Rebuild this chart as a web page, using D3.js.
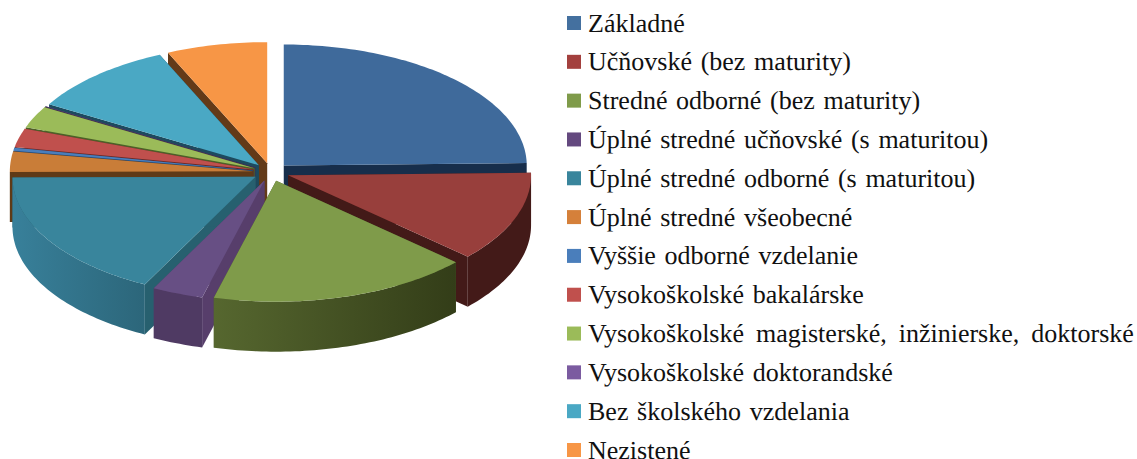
<!DOCTYPE html>
<html>

<head>
  <meta charset="utf-8">
  <title>Vzdelanie</title>
  <style>
    body {
      margin: 0;
      background: #fff;
    }

    svg {
      display: block;
    }

    .legend text {
      font-family: "Liberation Serif", serif;
      font-size: 26px;
      word-spacing: 2.2px;
      fill: #111;
      text-rendering: geometricPrecision;
    }

    /* the long row is stretched wider in the original */
    .legend g.long text {
      word-spacing: 5.5px;
    }
  </style>
</head>

<body>
  <svg width="1137" height="459"></svg>

  <script src="https://d3js.org/d3.v7.min.js"></script>
  <script>
    var categories = [
      'Základné',
      'Učňovské (bez maturity)',
      'Stredné odborné (bez maturity)',
      'Úplné stredné učňovské (s maturitou)',
      'Úplné stredné odborné (s maturitou)',
      'Úplné stredné všeobecné',
      'Vyššie odborné vzdelanie',
      'Vysokoškolské bakalárske',
      'Vysokoškolské magisterské, inžinierske, doktorské',
      'Vysokoškolské doktorandské',
      'Bez školského vzdelania',
      'Nezistené'
    ];
    var shares = [24.7, 12.1, 17.4, 3.4, 17.4, 2.7, 0.4, 2.5, 2.9, 0.03, 9.9, 6.7];

    // palettes, same order as categories
    var topColors = ['#3f6a9b', '#983f3c', '#7f9b4a', '#674f84', '#39859c', '#c97d38',
      '#4a7ebb', '#c0504d', '#9bbb59', '#6a4f8a', '#4aa8c4', '#f79646'];
    var swatchColors = ['#44709f', '#a3403e', '#7f9b4a', '#64497f', '#39859c', '#d5803a',
      '#4a7ebb', '#c0504d', '#9bbb59', '#7b5ba0', '#4aa8c4', '#f79646'];
    var sideColors = ['#172e4b', '#431a18', '#4a5a2a', '#573e6b', '#27606f', '#5f3a17',
      '#254a75', '#6b2a28', '#4d6028', '#3f2f55', '#1d4a5e', '#633a18'];
    // outer wall gradient, left and right end
    var wallLeft = ['#172e4b', '#431a18', '#56672f', '#4f3a63', '#38809a', '#5f3a17',
      '#254a75', '#6b2a28', '#4d6028', '#3f2f55', '#1d4a5e', '#633a18'];
    var wallRight = ['#172e4b', '#431a18', '#333d18', '#4f3a63', '#2c667a', '#5f3a17',
      '#254a75', '#6b2a28', '#4d6028', '#3f2f55', '#1d4a5e', '#633a18'];

    // back to front, so nearer slices cover the walls of the ones behind
    var drawOrder = [11, 10, 9, 8, 7, 6, 5, 0, 4, 1, 3, 2];

    var svg = d3.select('svg');
    var defs = svg.append('defs');

    var depth = 50;
    var explode = 0.075;
    // unit circle to the tilted ellipse of the pie
    var x = d3.scaleLinear().domain([-1, 1]).range([28, 514]);
    var y = d3.scaleLinear().domain([-1, 1]).range([51, 293]);

    var pie = d3.pie().sort(null).value(function(d) { return d; });
    var arcs = pie(shares);

    function point(a, r, dx, dy) {
      return [x(dx + r * Math.sin(a)), y(dy - r * Math.cos(a))];
    }

    function rimPoints(a0, a1, dx, dy) {
      var n = Math.max(2, Math.ceil((a1 - a0) / 0.02));
      return d3.range(n + 1).map(function(i) {
        return point(a0 + (a1 - a0) * i / n, 1, dx, dy);
      });
    }

    function shift(pts, h) {
      return pts.map(function(p) { return [p[0], p[1] + h]; });
    }

    var line = d3.line();

    var slices = svg.append('g').attr('class', 'pie');

    drawOrder.forEach(function(i) {
      var d = arcs[i];
      var mid = (d.startAngle + d.endAngle) / 2;
      var dx = explode * Math.sin(mid);
      var dy = -explode * Math.cos(mid);
      var apex = point(0, 0, dx, dy);
      var rim = rimPoints(d.startAngle, d.endAngle, dx, dy);
      var g = slices.append('g');

      // radial faces
      [rim[0], rim[rim.length - 1]].forEach(function(p) {
        var face = [apex, p, [p[0], p[1] + depth], [apex[0], apex[1] + depth]];
        g.append('path').attr('d', line(face) + 'Z').attr('fill', sideColors[i]);
      });

      // outer wall, only the part facing the viewer
      var a0 = Math.max(d.startAngle, Math.PI / 2);
      var a1 = Math.min(d.endAngle, Math.PI * 1.5);
      if (a1 > a0) {
        var front = rimPoints(a0, a1, dx, dy);
        var wall = front.concat(shift(front, depth).reverse());
        var ex = d3.extent(front, function(p) { return p[0]; });
        var grad = defs.append('linearGradient')
          .attr('id', 'wall' + i)
          .attr('gradientUnits', 'userSpaceOnUse')
          .attr('x1', ex[0]).attr('x2', ex[1]).attr('y1', 0).attr('y2', 0);
        grad.append('stop').attr('offset', 0).attr('stop-color', wallLeft[i]);
        grad.append('stop').attr('offset', 1).attr('stop-color', wallRight[i]);
        g.append('path').attr('d', line(wall) + 'Z').attr('fill', 'url(#wall' + i + ')');
      }

      // top face
      g.append('path')
        .attr('d', line([apex].concat(rim)) + 'Z')
        .attr('fill', topColors[i]);
    });

    // legend
    var rowY = d3.scalePoint().domain(d3.range(categories.length)).range([23, 450]);
    var legend = svg.append('g').attr('class', 'legend')
      .selectAll('g')
      .data(categories)
      .enter().append('g')
      .classed('long', function(d) { return d.length > 40; })
      .attr('transform', function(d, i) { return 'translate(567,' + rowY(i) + ')'; });

    legend.append('rect')
      .attr('x', 0).attr('y', -7)
      .attr('width', 14).attr('height', 14)
      .attr('fill', function(d, i) { return swatchColors[i]; });

    legend.append('text')
      .attr('x', 21).attr('y', 8.5)
      .text(function(d) { return d; });
  </script>
</body>

</html>
